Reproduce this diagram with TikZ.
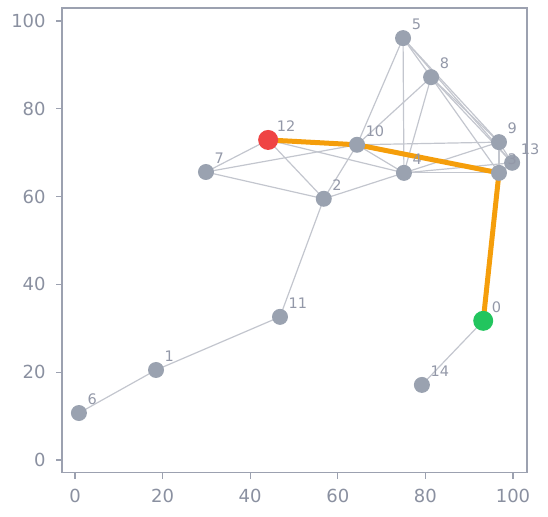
\documentclass[tikz,border=0pt]{standalone}
\usepackage{fontspec}
\setmainfont{DejaVu Sans}
\usetikzlibrary{backgrounds}

\definecolor{axisgray}{HTML}{9CA1B0}
\definecolor{tickgray}{HTML}{8A90A0}
\definecolor{nodegray}{HTML}{9AA2B0}
\definecolor{edgegray}{HTML}{C3C6CE}
\definecolor{labelgray}{HTML}{9398A8}
\definecolor{pathorange}{HTML}{F59E0B}
\definecolor{startred}{HTML}{EF4444}
\definecolor{goalgreen}{HTML}{22C55E}

\tikzset{
  vertex/.style={circle,fill=nodegray,inner sep=0pt,minimum size=16pt},
  special/.style={vertex,minimum size=20pt,fill=#1},
  edge/.style={draw=edgegray,line width=1.2pt},
  route/.style={draw=pathorange,line width=5pt,line join=round},
  vlabel/.style={text=labelgray,font=\fontsize{14.5}{14.5}\selectfont,inner sep=0pt,anchor=south west},
  ticklabel/.style={text=tickgray,font=\fontsize{18}{18}\selectfont,inner sep=0pt}
}

\begin{document}
\begin{tikzpicture}[x=4.38pt,y=4.39pt]
  \useasboundingbox (-17.12,-12.76) rectangle (107.99,104.78);
  % frame and ticks
  \draw[axisgray,line width=1.5pt] (-3,-2.9) rectangle (103.2,103);
  \foreach \t in {0,20,...,100} {
    \draw[axisgray,line width=1.2pt] (\t,-2.9) -- ++(0,-6pt);
    \node[ticklabel,anchor=north] (xt\t) at ([yshift=-16pt]\t,-2.9) {\t};
    \draw[axisgray,line width=1.2pt] (-3,\t) -- ++(-6pt,0);
    \node[ticklabel,anchor=east] (yt\t) at ([xshift=-16pt]-3,\t) {\t};
  }

  % vertices
  \foreach \x/\y [count=\i from 0] in {93.2/31.7,18.5/20.5,56.8/59.5,96.8/65.4,
      75.1/65.4,74.9/96.1,0.9/10.7,29.9/65.6,81.3/87.2,96.8/72.4,64.4/71.8,
      46.8/32.6,44.1/72.9,99.8/67.7,79.2/17.1} {
    \ifnum\i=0
      \node[special=goalgreen] (n\i) at (\x,\y) {};
    \else\ifnum\i=12
      \node[special=startred] (n\i) at (\x,\y) {};
    \else
      \node[vertex] (n\i) at (\x,\y) {};
    \fi\fi
  }
  \foreach \i in {0,...,14}
    \node[vlabel] (l\i) at ([shift={(8.5pt,8pt)}]n\i.center) {\i};

  \begin{scope}[on background layer]
    \foreach \a/\b in {6/1,1/11,11/2,14/0,12/7,12/2,12/4,7/10,7/2,2/10,2/4,
        10/5,10/8,10/9,10/4,5/4,5/8,5/9,5/13,8/4,8/9,8/13,8/3,4/9,4/3,4/13,
        9/3,9/13,3/13}
      \draw[edge] (n\a.center) -- (n\b.center);
    % shortest route
    \draw[route] (n12.center) -- (n10.center) -- (n3.center) -- (n0.center);
  \end{scope}
\end{tikzpicture}
\end{document}
